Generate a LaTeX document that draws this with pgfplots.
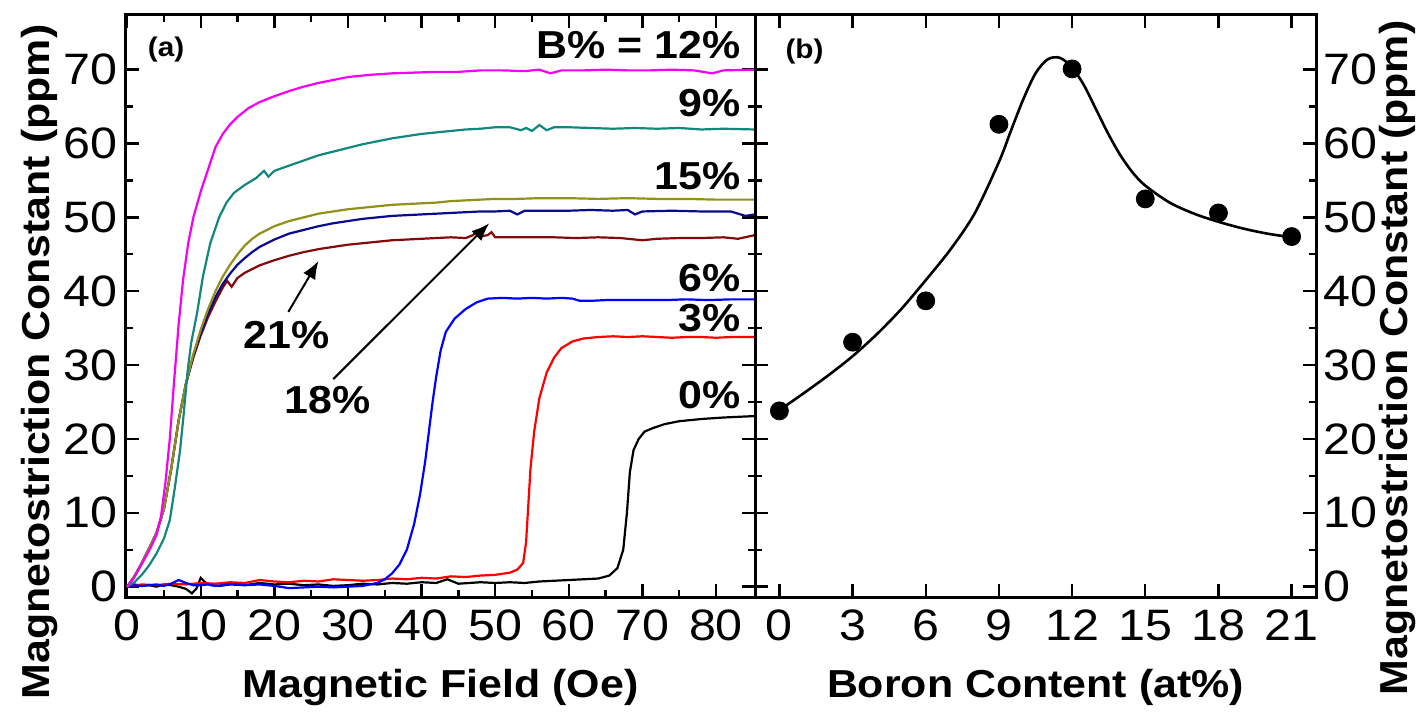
\documentclass[border=0pt]{standalone}
\usepackage{fontspec}
\setmainfont{Liberation Sans}[FakeStretch=1.1]
\usepackage{pgfplots}
\pgfplotsset{compat=1.18}
\usetikzlibrary{arrows.meta}

\definecolor{cMag}{RGB}{245,0,245}
\definecolor{cTeal}{RGB}{20,135,125}
\definecolor{cOlive}{RGB}{145,145,25}
\definecolor{cNavy}{RGB}{10,10,140}
\definecolor{cDred}{RGB}{130,10,10}
\definecolor{cBlue}{RGB}{0,0,255}
\definecolor{cRed}{RGB}{255,0,0}

\newcommand{\blbl}{\fontsize{19.5}{22}\selectfont\bfseries}

\pgfplotsset{
  myaxis/.style={
    scale only axis, height=291pt,
    ymin=-1.4, ymax=77.4,
    ytick={0,10,...,70}, minor y tick num=1,
    tick align=inside,
    major tick length=6.5pt, minor tick length=3.5pt,
    tick style={line width=1.2pt, black},
    axis line style={line width=1.5pt},
    tick label style={font=\fontsize{22}{24}\selectfont},
    /pgf/number format/assume math mode=true,
    label style={font=\blbl},
  }
}

\begin{document}
\begin{tikzpicture}
\useasboundingbox (-63pt,-58pt) rectangle (651pt,298.5pt);
% ---------------- panel (a)
\begin{axis}[myaxis, name=a, width=314.5pt,
  xmin=-0.15, xmax=85.3, xtick={0,10,...,80}, minor x tick num=1,
  xlabel={Magnetic Field (Oe)}, ylabel={Magnetostriction Constant (ppm)},
  xlabel style={at={(axis description cs:0.5,-0.1735)}, anchor=base},
  ylabel style={at={(axis description cs:-0.137,0.404)}, anchor=center},
  yticklabel style={xshift=-1pt},
  xticklabel style={yshift=-3pt},
  every axis plot/.append style={line width=1.1pt}]
\addplot[black] coordinates {(0,0)(1,0.3)(2,0.1)(3,0.2)(4,0.0)(5,0.3)(6,0.2)(7,0.0)(8,-0.3)(8.8,-0.9)(9.4,-0.3)(10,1.2)(10.6,0.6)(11.5,0.2)(12.5,0.1)(14,0.3)(16,0.2)(18,0.5)(20,0.3)(22,0.4)(24,0.2)(26,0.3)(28,0.1)(30,0.2)(32,0.4)(34,0.3)(36,0.5)(38,0.4)(40,0.6)(42,0.5)(43.5,1.0)(45,0.4)(48,0.6)(50,0.5)(52,0.6)(54,0.5)(56,0.7)(58,0.8)(60,0.9)(62,1.0)(64,1.1)(65.5,1.5)(66.6,2.5)(67.4,5)(67.9,10)(68.3,15.5)(68.8,18.5)(69.5,20)(70.3,21)(71.5,21.5)(73,22)(75,22.4)(78,22.7)(81,22.9)(85.3,23.1)};
\addplot[cRed] coordinates {(0,0)(2,0.3)(4,0.2)(6,0.4)(8,0.3)(10,0.5)(12,0.4)(14,0.6)(16,0.5)(18,0.9)(20,0.7)(22,0.6)(24,0.8)(26,0.7)(28,1.0)(30,0.9)(32,0.8)(34,0.9)(36,1.1)(38,1.0)(40,1.2)(42,1.1)(44,1.4)(46,1.3)(48,1.5)(50,1.6)(52,1.9)(53,2.3)(53.8,3.2)(54.2,6)(54.5,11)(54.8,16)(55.3,21)(56,25.5)(57,29)(58,31)(59,32.3)(60.5,33.2)(62,33.6)(64,33.8)(66,33.9)(68,33.8)(70,33.9)(72,33.8)(74,33.7)(76,33.8)(78,33.8)(80,33.7)(82,33.8)(85.3,33.8)};
\addplot[cBlue] coordinates {(0,0)(1,0.2)(2,0.1)(3,0.2)(4,0.3)(5,0.1)(6,0.4)(7,0.9)(8,0.5)(9,0.2)(10,0.2)(11,0.3)(12,0.1)(13,0.2)(14,0.4)(15,0.3)(16,0.2)(18,0.3)(20,0.1)(22,-0.2)(24,-0.1)(26,0.0)(28,-0.1)(30,0.0)(32,0.1)(33,0.3)(34,0.5)(35,1.0)(36,1.8)(37,3)(38,5)(39,8.5)(39.8,12.5)(40.5,17)(41,21)(41.5,25)(42,28.5)(42.6,32)(43.3,34.5)(44.5,36.3)(46,37.6)(47.5,38.5)(49,39)(51,39.1)(53,39.0)(55,39.1)(57,39.0)(59,39.1)(60.5,39.0)(61.5,38.7)(63,38.7)(65,38.8)(67,38.8)(70,38.8)(73,38.8)(76,38.9)(79,38.8)(82,38.9)(85.3,38.9)};
\addplot[cDred] coordinates {(0,0)(1,1.4)(2,3.2)(3,5.2)(4,7.3)(5,10.5)(6,16)(7,22.5)(8,27.5)(9,31)(10,34)(11,36.5)(12,38.6)(13,40.5)(13.6,41.4)(14.2,40.6)(15,41.8)(16,42.5)(17,43.0)(18,43.5)(20,44.2)(22,44.8)(24,45.3)(26,45.7)(28,46.0)(30,46.3)(32,46.5)(34,46.7)(36,46.9)(38,47.0)(40,47.1)(42,47.2)(44,47.3)(46,47.2)(47,47.6)(47.5,48.2)(48,47.4)(49,47.6)(49.5,48.0)(50,47.3)(52,47.3)(55,47.3)(58,47.3)(61,47.2)(64,47.3)(67,47.2)(70,46.9)(72,47.1)(75,47.2)(78,47.2)(81,47.3)(83,47.1)(85.3,47.6)};
\addplot[cNavy] coordinates {(0,0)(1,1.4)(2,3.2)(3,5.2)(4,7.3)(5,10.5)(6,16)(7,22.5)(8,27.5)(9,31.3)(10,34.3)(11,37)(12,39.2)(13,41)(14,42.4)(15,43.6)(16,44.5)(17,45.3)(18,46)(20,47)(22,47.8)(24,48.3)(26,48.8)(28,49.2)(30,49.5)(32,49.8)(34,50)(36,50.2)(38,50.3)(40,50.4)(42,50.5)(44,50.6)(46,50.7)(48,50.8)(50,50.8)(52,50.9)(53,50.4)(54,50.9)(57,50.9)(60,50.9)(63,51.0)(66,50.9)(68,51.0)(69,50.4)(70,50.8)(74,50.9)(78,50.8)(82,50.8)(84,50.2)(85.3,50.4)};
\addplot[cOlive] coordinates {(0,0)(1,1.4)(2,3.2)(3,5.2)(4,7.3)(5,10.5)(6,16)(7,22.5)(8,27.5)(9,31.5)(10,34.8)(11,37.6)(12,40)(13,42)(14,43.6)(15,45)(16,46.2)(17,47.1)(18,47.8)(20,48.8)(22,49.5)(24,50)(26,50.5)(28,50.8)(30,51.1)(32,51.3)(34,51.5)(36,51.7)(38,51.8)(40,51.9)(42,52.0)(44,52.2)(46,52.3)(48,52.4)(50,52.5)(53,52.5)(56,52.6)(60,52.6)(64,52.5)(68,52.6)(72,52.5)(76,52.5)(80,52.4)(85.3,52.4)};
\addplot[cTeal] coordinates {(0,0)(1,0.6)(2,1.6)(3,2.9)(4,4.5)(5,6.5)(5.8,9)(6.5,13.5)(7.2,18.5)(7.7,23.5)(8.2,29)(8.7,33)(9.5,37)(10.3,42)(11.3,46.5)(12.5,50)(13.5,52)(14.5,53.3)(16,54.4)(17.5,55.3)(18.6,56.3)(19.2,55.5)(20,56.3)(22,57)(24,57.7)(26,58.4)(28,58.9)(30,59.4)(32,59.9)(34,60.3)(36,60.7)(38,61)(40,61.3)(42,61.5)(44,61.7)(46,61.9)(48,62)(50,62.2)(52,62.2)(53.5,61.8)(54.2,62.1)(55,61.7)(56,62.5)(57,61.8)(58,62.2)(60,62.2)(63,62.1)(66,62.0)(69,62.1)(72,62.0)(75,62.1)(78,61.9)(81,62.0)(85.3,61.9)};
\addplot[cMag] coordinates {(0,0)(0.8,1)(1.6,2.4)(2.4,3.8)(3.2,5.3)(4,7)(4.6,9.5)(5.2,14)(5.8,20)(6.4,28)(7,35.5)(7.6,41.5)(8.3,46.5)(9,50)(10,53.5)(11,56.5)(12,59.5)(13,61.3)(14,62.6)(15,63.6)(16.5,64.8)(18,65.6)(20,66.4)(22,67.1)(24,67.7)(26,68.2)(28,68.6)(30,69.0)(33,69.3)(36,69.5)(39,69.6)(42,69.7)(45,69.7)(48,69.9)(51,69.9)(54,69.8)(56,70.0)(57.5,69.5)(59,69.9)(62,69.9)(65,70.0)(68,69.9)(71,69.9)(74,70.0)(77,69.9)(79.5,69.5)(81,69.9)(85.3,70.0)};
\node[font=\fontsize{13.5}{15}\selectfont\bfseries] at (axis cs:5.3,72.7) {(a)};
\node[font=\blbl, anchor=east, inner sep=0pt] at (axis cs:83.4,73.3) {B\% = 12\%};
\node[font=\blbl, anchor=east, inner sep=0pt] at (axis cs:83.4,65.5) {9\%};
\node[font=\blbl, anchor=east, inner sep=0pt] at (axis cs:83.4,55.6) {15\%};
\node[font=\blbl, anchor=east, inner sep=0pt] at (axis cs:83.4,41.8) {6\%};
\node[font=\blbl, anchor=east, inner sep=0pt] at (axis cs:83.4,36.4) {3\%};
\node[font=\blbl, anchor=east, inner sep=0pt] at (axis cs:83.4,25.9) {0\%};
\node[font=\blbl] at (axis cs:21.7,34.1) {21\%};
\node[font=\blbl] at (axis cs:27.2,25.2) {18\%};
\draw[line width=1pt, -{Latex[length=9pt,width=7pt]}] (axis cs:21.9,37.2) -- (axis cs:26,44.1);
\draw[line width=1pt, -{Latex[length=9pt,width=7pt]}] (axis cs:28,28.1) -- (axis cs:49.2,49.2);
\end{axis}
% ---------------- panel (b)
\begin{axis}[myaxis, at={(a.south east)}, anchor=south west, width=280.5pt,
  xmin=-1, xmax=22, xtick={0,3,...,21},
  yticklabel pos=right, ytick pos=both,
  xlabel={Boron Content (at\%)}, ylabel={Magnetostriction Constant (ppm)},
  xlabel style={at={(axis description cs:0.5,-0.1735)}, anchor=base},
  ylabel style={at={(axis description cs:1.146,0.411)}, anchor=center},
  xticklabel style={yshift=-3pt}]
\addplot[black, line width=1.3pt, smooth] coordinates {(0,23.9)(1,26.2)(2,28.6)(3,31.2)(4,34.2)(5,37.6)(6,41.5)(7,45.6)(8,50.5)(9,57.5)(9.5,61.8)(10,66)(10.5,69.5)(11,71.4)(11.5,71.6)(12,70.3)(12.5,67.8)(13,64.5)(13.5,61.2)(14,58.3)(14.5,56)(15,54.3)(16,52)(17,50.5)(18,49.4)(19,48.5)(20,47.8)(21,47.3)};
\addplot[only marks, mark=*, mark size=4.5pt, black] coordinates {(0,23.8)(3,33.1)(6,38.7)(9,62.6)(12,70.1)(15,52.5)(18,50.6)(21,47.4)};
\node[font=\fontsize{13.5}{15}\selectfont\bfseries] at (axis cs:1.03,72.5) {(b)};
\end{axis}
\end{tikzpicture}
\end{document}
